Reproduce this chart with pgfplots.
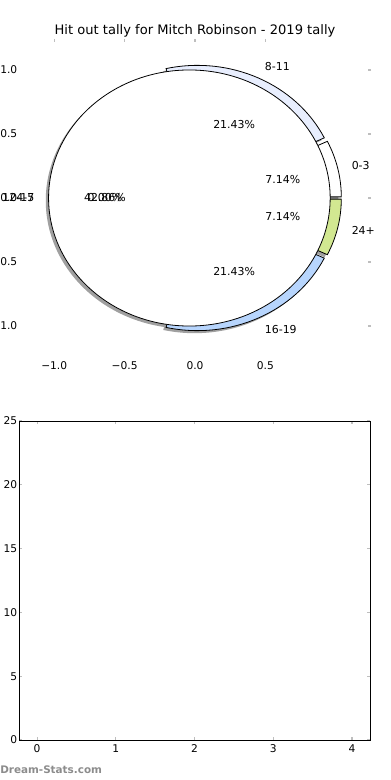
\documentclass[border=0pt]{standalone}
\usepackage{pgfplots}
\pgfplotsset{compat=1.18}
\usepackage{fontspec}
\setmainfont{DejaVu Sans}
\definecolor{cEight}{RGB}{232,238,254}
\definecolor{cSixteen}{RGB}{183,213,253}
\definecolor{cTwentyFour}{RGB}{210,232,145}
\definecolor{tickgray}{RGB}{190,190,190}
\definecolor{shadowgray}{RGB}{160,160,160}
\definecolor{wmgray}{RGB}{140,140,140}
% counts (hit outs per band)
\def\cntA{1}% 0-3
\def\cntB{3}% 8-11
\def\cntC{6}% 12-15
\def\cntD{3}% 16-19
\def\cntE{1}% 24+
\pgfmathsetmacro\tot{\cntA+\cntB+\cntC+\cntD+\cntE}
\pgfmathsetmacro\angA{360*\cntA/\tot}
\pgfmathsetmacro\angB{\angA+360*\cntB/\tot}
\pgfmathsetmacro\angC{\angB+360*\cntC/\tot}
\pgfmathsetmacro\angD{\angC+360*\cntD/\tot}
\def\expl{0.04}
\newcommand\pieShadow[2]{%
 \pgfmathsetmacro\wm{(#1+#2)/2}%
 \pgfmathsetmacro\wcx{\expl*cos(\wm)-0.02}%
 \pgfmathsetmacro\wcy{\expl*sin(\wm)-0.02}%
 \pgfmathsetmacro\wsx{\wcx+cos(#1)}%
 \pgfmathsetmacro\wsy{\wcy+sin(#1)}%
 \edef\temp{\noexpand\fill[shadowgray] (axis cs:\wcx,\wcy) -- (axis cs:\wsx,\wsy) arc[start angle=#1,end angle=#2,radius=1] -- cycle;}%
 \temp}
\newcommand\pieWedge[3]{%
 \pgfmathsetmacro\wm{(#1+#2)/2}%
 \pgfmathsetmacro\wcx{\expl*cos(\wm)}%
 \pgfmathsetmacro\wcy{\expl*sin(\wm)}%
 \pgfmathsetmacro\wsx{\wcx+cos(#1)}%
 \pgfmathsetmacro\wsy{\wcy+sin(#1)}%
 \edef\temp{\noexpand\draw[black,line width=0.6pt,fill=#3] (axis cs:\wcx,\wcy) -- (axis cs:\wsx,\wsy) arc[start angle=#1,end angle=#2,radius=1] -- cycle;}%
 \temp}
\newcommand\pieLabel[5]{% start end label pct anchor
 \pgfmathsetmacro\wm{(#1+#2)/2}%
 \pgfmathsetmacro\lx{\expl*cos(\wm)+1.1*cos(\wm)}%
 \pgfmathsetmacro\ly{\expl*sin(\wm)+1.1*sin(\wm)}%
 \pgfmathsetmacro\qx{\expl*cos(\wm)+0.6*cos(\wm)}%
 \pgfmathsetmacro\qy{\expl*sin(\wm)+0.6*sin(\wm)}%
 \edef\temp{\noexpand\node[anchor=#5,inner sep=0pt] at (axis cs:\lx,\ly) {#3};
  \noexpand\node[inner sep=0pt] at (axis cs:\qx,\qy) {#4};}%
 \temp}
\begin{document}
\begin{tikzpicture}
\begin{axis}[
 at={(14.25pt,-267.75pt)}, anchor=south west,
 width=264pt, height=238.5pt, scale only axis,
 xmin=-1.25, xmax=1.25, ymin=-1.242, ymax=1.242,
 axis line style={draw=none},
 xtick={-1,-0.5,0,0.5}, xticklabels={−1.0,−0.5,0.0,0.5},
 ytick={-1,-0.5,0,0.5,1}, yticklabels={−1.0,−0.5,0.0,0.5,1.0},
 xtick pos=upper, ytick pos=upper, xticklabel pos=lower, yticklabel pos=lower,
 tick align=inside, major tick length=2.5pt, tick style={tickgray, line width=0.9pt},
 ticklabel style={font=\fontsize{8}{9}\selectfont},
 yticklabel style={xshift=2.2pt},
 title={Hit out tally for Mitch Robinson - 2019 tally},
 title style={font=\fontsize{9.8}{11}\selectfont, anchor=base, at={(0.5,1)}, yshift=-3pt, inner sep=0pt},
 clip=false,
 font=\fontsize{8.2}{9.6}\selectfont,
]
\addplot[draw=none] coordinates {(0,0)};
\pieShadow{0}{\angA}
\pieShadow{\angA}{\angB}
\pieShadow{\angC}{\angD}
\pieShadow{\angD}{360}
\fill[shadowgray] (axis cs:-0.06,-0.02) circle[radius=1];
\pieWedge{0}{\angA}{white}
\pieWedge{\angA}{\angB}{cEight}
\pieWedge{\angC}{\angD}{cSixteen}
\pieWedge{\angD}{360}{cTwentyFour}
\draw[black,line width=0.6pt,fill=white] (axis cs:-0.04,0) circle[radius=1];
\pieLabel{0}{\angA}{0-3}{7.14\%}{west}
\pieLabel{\angA}{\angB}{8-11}{21.43\%}{west}
\pieLabel{\angB}{\angC}{12-15}{42.86\%}{east}
\pieLabel{\angB}{\angC}{4-7}{0.00\%}{east}
\pieLabel{\angC}{\angD}{16-19}{21.43\%}{west}
\pieLabel{\angD}{360}{24+}{7.14\%}{west}
\end{axis}
\begin{axis}[
 at={(14.25pt,-555pt)}, anchor=south west,
 width=263.25pt, height=239.25pt, scale only axis,
 xmin=-0.23, xmax=4.23, ymin=0, ymax=25,
 xtick={0,1,2,3,4}, ytick={0,5,10,15,20,25},
 tick align=inside, xtick pos=both, ytick pos=both,
 xticklabel pos=lower, yticklabel pos=lower,
 major tick length=2.5pt, tick style={tickgray, line width=0.9pt},
 axis line style={black, line width=0.75pt},
 ticklabel style={font=\fontsize{8}{9}\selectfont},
 yticklabel style={xshift=2.2pt},
 /pgf/number format/assume math mode=true,
]
\addplot[draw=none] coordinates {(0,0)};
\end{axis}
\node[anchor=west, inner sep=0pt, text=wmgray, font=\bfseries\fontsize{7.8}{9}\selectfont] at (0pt,-577.5pt) {Dream-Stats.com};
\pgfresetboundingbox
\path[use as bounding box] (0pt,0pt) rectangle (292.5pt,-585pt);
\end{tikzpicture}
\end{document}
